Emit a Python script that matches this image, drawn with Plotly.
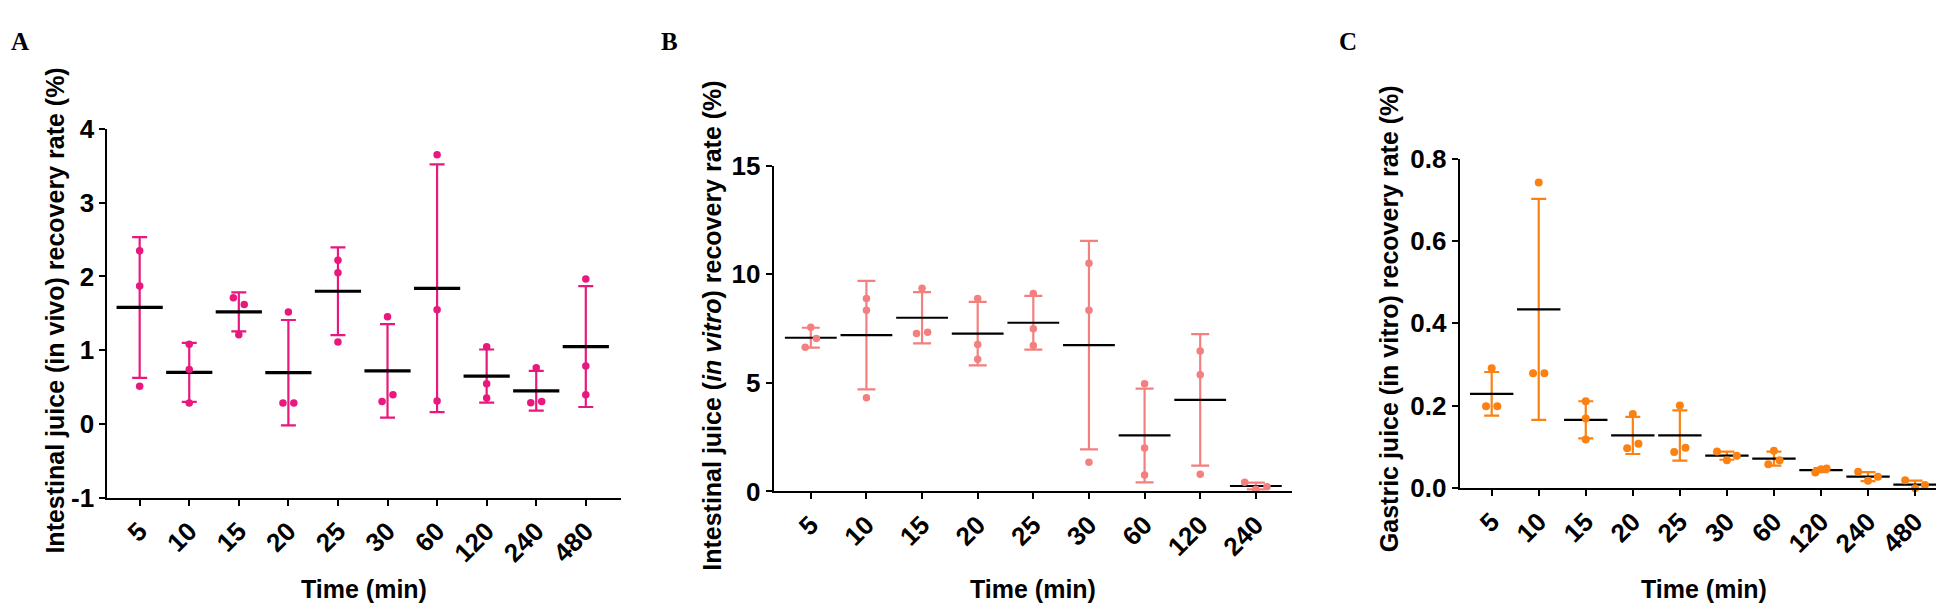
import plotly.graph_objects as go

W, H = 1944, 609

# ---------------- data ----------------
times_a = ["5", "10", "15", "20", "25", "30", "60", "120", "240", "480"]
a_points = [[2.35, 1.87, 0.51], [1.08, 0.74, 0.285], [1.71, 1.62, 1.21], [1.52, 0.283, 0.283],
            [2.22, 2.05, 1.11], [1.455, 0.305, 0.395], [3.65, 1.55, 0.31], [1.047, 0.545, 0.352],
            [0.764, 0.288, 0.305], [1.966, 0.785, 0.395]]
a_mean = [1.58, 0.70, 1.52, 0.695, 1.80, 0.72, 1.84, 0.65, 0.45, 1.05]
a_sd = [0.955, 0.40, 0.265, 0.715, 0.595, 0.635, 1.68, 0.36, 0.27, 0.82]

times_b = ["5", "10", "15", "20", "25", "30", "60", "120", "240"]
b_points = [[7.56, 7.04, 6.64], [8.89, 8.35, 4.32], [9.36, 7.27, 7.33], [8.89, 6.77, 6.09],
            [9.12, 7.49, 6.72], [10.51, 8.35, 1.34], [4.96, 2.0, 0.76], [6.47, 5.37, 0.79],
            [0.42, 0.10, 0.22]]
b_mean = [7.08, 7.20, 8.00, 7.27, 7.77, 6.74, 2.58, 4.22, 0.25]
b_sd = [0.46, 2.50, 1.18, 1.46, 1.24, 4.80, 2.16, 3.03, 0.16]

times_c = ["5", "10", "15", "20", "25", "30", "60", "120", "240", "480"]
c_points = [[0.291, 0.199, 0.199], [0.742, 0.279, 0.279], [0.211, 0.169, 0.118], [0.180, 0.097, 0.108],
            [0.201, 0.088, 0.098], [0.089, 0.068, 0.079], [0.091, 0.058, 0.068], [0.038, 0.046, 0.048],
            [0.040, 0.018, 0.028], [0.019, 0.0, 0.008]]
c_mean = [0.229, 0.434, 0.166, 0.128, 0.128, 0.079, 0.072, 0.044, 0.028, 0.0085]
c_sd = [0.053, 0.268, 0.045, 0.045, 0.061, 0.010, 0.017, 0.005, 0.011, 0.010]

# horizontal spreading of overlapping dots (layout only, in category units)
a_jit = [[0, 0, 0], [0, 0, 0], [-0.11, 0.11, 0], [0, -0.11, 0.11], [0, 0, 0],
         [0, -0.11, 0.11], [0, 0, 0], [0, 0, 0], [0, -0.11, 0.11], [0, 0, 0]]
b_jit = [[0, 0.1, -0.1], [0, 0, 0], [0, -0.1, 0.1], [0, 0, 0], [0, 0, 0],
         [0, 0, 0], [0, 0, 0], [0, 0, 0], [-0.2, 0, 0.2]]
c_jit = [[0, -0.12, 0.12], [0, -0.12, 0.12], [0, 0, 0], [0, -0.12, 0.12], [0, -0.12, 0.12],
         [-0.21, 0, 0.21], [0, -0.12, 0.12], [-0.12, 0, 0.12], [-0.21, 0, 0.21], [-0.21, 0, 0.21]]

col_a = "#E8187E"
col_b = "#F47F7F"
col_c = "#FB8113"

FONT = "Arial, Liberation Sans, sans-serif"

fig = go.Figure()


def add_panel(n, times, pts, jit, mean, sd, color, mean_w, mean_th, cap, msize):
    xs = list(range(len(times)))
    xa = "x" if n == 1 else f"x{n}"
    ya = "y" if n == 1 else f"y{n}"
    fig.add_trace(go.Scatter(
        x=xs, y=mean, mode="markers", xaxis=xa, yaxis=ya, showlegend=False,
        marker=dict(symbol="line-ew", size=mean_w, color="black",
                    line=dict(color="black", width=mean_th)),
        error_y=dict(type="data", array=sd, visible=True, color=color, thickness=2.2, width=cap),
        cliponaxis=False, hoverinfo="skip"))
    px, py = [], []
    for i, (row, jr) in enumerate(zip(pts, jit)):
        for v, j in zip(row, jr):
            px.append(i + j)
            py.append(v)
    fig.add_trace(go.Scatter(
        x=px, y=py, mode="markers", xaxis=xa, yaxis=ya, showlegend=False,
        marker=dict(symbol="circle", size=msize, color=color, line=dict(width=0)),
        cliponaxis=False, hoverinfo="skip"))


add_panel(1, times_a, a_points, a_jit, a_mean, a_sd, col_a, 33, 3.2, 7.5, 7.5)
add_panel(2, times_b, b_points, b_jit, b_mean, b_sd, col_b, 37, 2.2, 9, 7.5)
add_panel(3, times_c, c_points, c_jit, c_mean, c_sd, col_c, 31, 2.2, 7.5, 8)


def px2x(p):
    return p / W


def px2y(p):
    return 1 - p / H


axis_common = dict(showline=True, linecolor="black", linewidth=2, ticks="outside",
                   tickcolor="black", tickwidth=2, ticklen=6, showgrid=False, zeroline=False,
                   tickfont=dict(family=FONT, size=26, color="black", weight="bold"))

panels = [
    # (y-axis x px, x-axis end px, bottom px, top px, xrange, yrange, ticks)
    (99.3, 613, 499.3, 111.5, [-0.653, 9.71], [-1, 4], times_a, [-1, 0, 1, 2, 3, 4], ["-1", "0", "1", "2", "3", "4"]),
    (765.7, 1284, 492.7, 150.2, [-0.667, 8.65], [0, 15], times_b, [0, 5, 10, 15], ["0", "5", "10", "15"]),
    (1451.7, 1940, 489.3, 142.6, [-0.68, 9.70], [0, 0.8], times_c, [0, 0.2, 0.4, 0.6, 0.8], ["0.0", "0.2", "0.4", "0.6", "0.8"]),
]

lay = {}
for k, (xl, xr, yb, yt, xr_, yr_, tl, yv, yt_) in enumerate(panels, start=1):
    sfx = "" if k == 1 else str(k)
    lay[f"xaxis{sfx}"] = dict(axis_common, domain=[px2x(xl), px2x(xr)], range=xr_,
                              anchor=f"y{sfx}", tickmode="array", tickvals=list(range(len(tl))),
                              ticktext=tl, tickangle=-45)
    lay[f"yaxis{sfx}"] = dict(axis_common, domain=[px2y(yb), px2y(yt)], range=yr_,
                              anchor=f"x{sfx}", tickmode="array", tickvals=yv, ticktext=yt_)

ann = []
ytitles = [
    ("Intestinal juice (in vivo) recovery rate (%)", 47.5, 303),
    ("Intestinal juice (<i>in vitro</i>) recovery rate (%)", 704.5, 319),
    ("Gastric juice (in vitro) recovery rate (%)", 1380.5, 311),
]
for t, x, y in ytitles:
    ann.append(dict(text=t, x=px2x(x), y=px2y(y), xref="paper", yref="paper", showarrow=False,
                    textangle=-90, xanchor="center", yanchor="middle",
                    font=dict(family=FONT, size=25, color="black", weight="bold")))
for x in [356, 1025, 1696]:
    ann.append(dict(text="Time (min)", x=px2x(x), y=px2y(595), xref="paper", yref="paper",
                    showarrow=False, xanchor="center", yanchor="middle",
                    font=dict(family=FONT, size=25, color="black", weight="bold")))
for t, x in [("A", 1), ("B", 651), ("C", 1329)]:
    ann.append(dict(text=t, x=px2x(x), y=px2y(3), xref="paper", yref="paper", showarrow=False,
                    xanchor="left", yanchor="top",
                    font=dict(family="Times New Roman, Liberation Serif, serif", size=25,
                              color="black", weight="bold")))

fig.update_layout(width=W, height=H, margin=dict(l=0, r=0, t=0, b=0),
                  paper_bgcolor="white", plot_bgcolor="white", annotations=ann, **lay)

fig.write_html("out.html")
